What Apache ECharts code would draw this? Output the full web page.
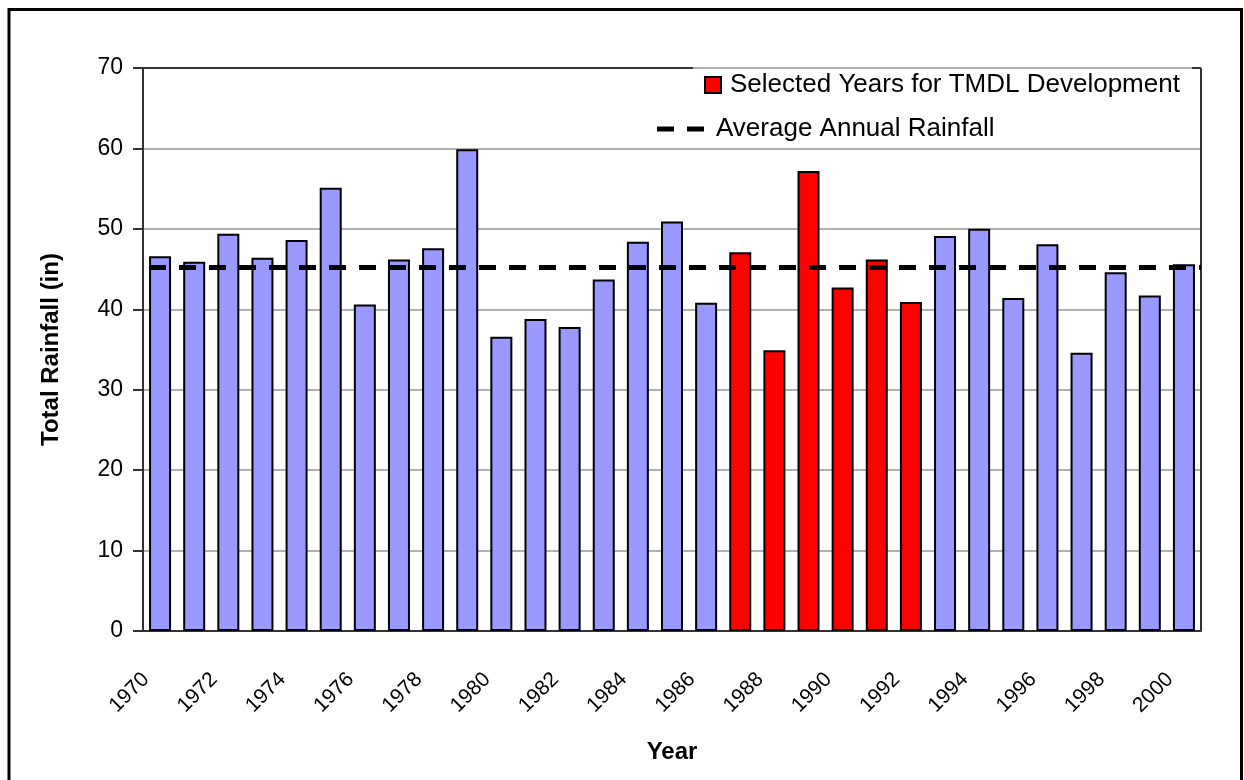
<!DOCTYPE html>
<html>
<head>
<meta charset="utf-8">
<title>Total Rainfall</title>
<script src="https://cdn.jsdelivr.net/npm/echarts@6/dist/echarts.min.js"></script>
<style>
  html, body { margin: 0; padding: 0; background: #fff; }
  #chart { width: 1244px; height: 780px; }
</style>
</head>
<body>
<div id="chart"></div>
<script>
// values
let years = ['1970', '1971', '1972', '1973', '1974', '1975', '1976', '1977', '1978', '1979',
  '1980', '1981', '1982', '1983', '1984', '1985', '1986', '1987', '1988', '1989',
  '1990', '1991', '1992', '1993', '1994', '1995', '1996', '1997', '1998', '1999', '2000']
let rainfall = [46.6, 45.9, 49.4, 46.4, 48.6, 55.1, 40.6, 46.2, 47.6, 59.9,
  36.6, 38.8, 37.8, 43.7, 48.4, 50.9, 40.8, 47.1, 34.9, 57.2,
  42.7, 46.2, 40.9, 49.1, 50.0, 41.4, 48.1, 34.6, 44.6, 41.7, 45.6]
let selectedYears = ['1987', '1988', '1989', '1990', '1991', '1992']
let averageRainfall = 45.2
let yTicks = [0, 10, 20, 30, 40, 50, 60, 70]

let selectedName = 'Selected Years for TMDL Development'
let averageName = 'Average Annual Rainfall'
let font = '"Liberation Sans", Arial, sans-serif'

// plot area in pixels
let grid = { left: 143, top: 68, width: 1058, height: 563 }
let gridRight = grid.left + grid.width
let gridBottom = grid.top + grid.height
let legendBoxLeft = 693
let legendBoxRight = 1192

let otherBars = rainfall.map((v, i) => selectedYears.includes(years[i]) ? '-' : v)
let selectedBars = rainfall.map((v, i) => selectedYears.includes(years[i]) ? v : '-')

let barStyle = (color) => ({ color: color, borderColor: '#000', borderWidth: 2 })

let option = {
  backgroundColor: '#fff',
  animation: false,
  grid: grid,
  legend: [{
    data: [selectedName],
    left: 704,
    top: 72,
    padding: 0,
    icon: 'rect',
    itemWidth: 16,
    itemHeight: 16,
    selectedMode: false,
    textStyle: { fontFamily: font, fontSize: 26, color: '#000', padding: [0, 0, 0, 4] }
  }, {
    data: [{ name: averageName, icon: 'path://M0,0H17V5H0Z M30,0H47V5H30Z' }],
    left: 657,
    top: 116,
    padding: 0,
    itemWidth: 47,
    itemHeight: 5,
    selectedMode: false,
    textStyle: { fontFamily: font, fontSize: 26, color: '#000', padding: [0, 0, 0, 7] }
  }],
  xAxis: {
    type: 'category',
    data: years,
    boundaryGap: true,
    name: 'Year',
    nameLocation: 'middle',
    nameGap: 109,
    nameTextStyle: { fontFamily: font, fontSize: 24, fontWeight: 'bold', color: '#000' },
    axisLine: { lineStyle: { color: '#333', width: 2 } },
    axisTick: { interval: 0, length: 8, lineStyle: { color: '#333', width: 2 } },
    axisLabel: {
      interval: 1,
      rotate: 45,
      margin: 31,
      padding: [0, 20, 0, 0],
      fontFamily: font,
      fontSize: 21,
      color: '#000'
    },
    splitLine: { show: false }
  },
  yAxis: {
    type: 'value',
    min: yTicks[0],
    max: yTicks[yTicks.length - 1],
    interval: yTicks[1] - yTicks[0],
    name: 'Total Rainfall (in)',
    nameLocation: 'middle',
    nameGap: 80,
    nameTextStyle: { fontFamily: font, fontSize: 24, fontWeight: 'bold', color: '#000' },
    axisLine: { show: true, lineStyle: { color: '#333', width: 2 } },
    axisTick: { show: true, length: 10, lineStyle: { color: '#333', width: 2 } },
    axisLabel: { margin: 20, fontFamily: font, fontSize: 23, color: '#000' },
    splitLine: { lineStyle: { color: '#b0b0b0', width: 2 } }
  },
  series: [{
    name: 'Other Years',
    type: 'bar',
    data: otherBars,
    barWidth: 22,
    barGap: '-100%',
    itemStyle: barStyle('#9999ff')
  }, {
    name: selectedName,
    type: 'bar',
    data: selectedBars,
    barWidth: 22,
    barGap: '-100%',
    itemStyle: barStyle('#ff0000')
  }, {
    name: averageName,
    type: 'line',
    data: [],
    z: 5,
    itemStyle: { color: '#000' },
    lineStyle: { color: '#000', width: 5 },
    markLine: {
      silent: true,
      symbol: ['none', 'none'],
      label: { show: false },
      lineStyle: { color: '#000', width: 5, type: [17, 13], dashOffset: 24 },
      data: [{ yAxis: averageRainfall }]
    }
  }],
  graphic: [
    // outer frame
    { type: 'rect', z: 10, shape: { x: 9, y: 9.5, width: 1232.5, height: 800 },
      style: { fill: null, stroke: '#000', lineWidth: 3 } },
    // plot area border, broken where the legend sits
    { type: 'line', z: 1, shape: { x1: grid.left, y1: grid.top, x2: legendBoxLeft, y2: grid.top },
      style: { stroke: '#333', lineWidth: 2 } },
    { type: 'line', z: 1, shape: { x1: legendBoxRight, y1: grid.top, x2: gridRight, y2: grid.top },
      style: { stroke: '#333', lineWidth: 2 } },
    { type: 'line', z: 1, shape: { x1: gridRight, y1: grid.top, x2: gridRight, y2: gridBottom },
      style: { stroke: '#333', lineWidth: 2 } }
  ]
}

let myChart = echarts.init(document.getElementById('chart'), null, { renderer: 'canvas' })
myChart.setOption(option)
</script>
</body>
</html>
